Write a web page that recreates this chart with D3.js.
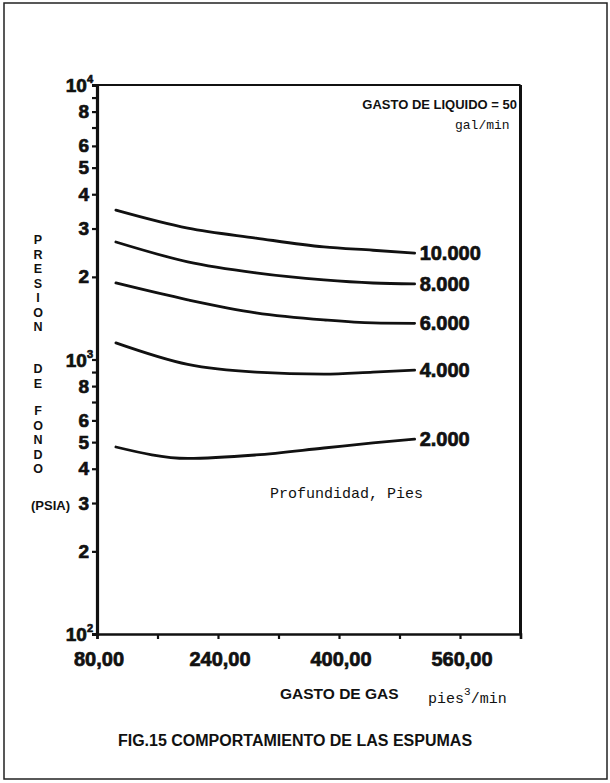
<!DOCTYPE html>
<html>
<head>
<meta charset="utf-8">
<script src="https://cdn.jsdelivr.net/npm/d3@7"></script>
<style>
  html, body { margin: 0; padding: 0; background: #fff; }
  svg { display: block; }
  .heavy { font-family: "Liberation Sans", Arial, sans-serif; font-weight: bold; fill: #111; stroke: #111; stroke-width: 0.7px; }
  .bold { font-family: "Liberation Sans", Arial, sans-serif; font-weight: bold; fill: #111; }
  .mono { font-family: "Liberation Mono", "DejaVu Sans Mono", monospace; fill: #111; }
</style>
</head>
<body>
<script>
// Gas rate (pies^3/min) at which each curve is read
const gasRates = [105, 200, 290, 380, 445, 500];

// Bottom-hole pressure (psia) per well depth (pies)
const depthLabels = ["10.000", "8.000", "6.000", "4.000", "2.000"];
const p10000 = [3500, 3010, 2770, 2570, 2500, 2440];
const p8000  = [2680, 2270, 2070, 1950, 1900, 1885];
const p6000  = [1900, 1650, 1480, 1395, 1360, 1355];
const p4000  = [1150, 960, 900, 885, 900, 915];
const p2000  = [480, 436, 449, 476, 497, 513];
const seriesValues = [p10000, p8000, p6000, p4000, p2000];

// Axis ticks
const xTicks = [80, 160, 240, 320, 400, 480, 560];
const xTickLabels = [80, 240, 400, 560];
const yDecades = [100, 1000, 10000];
const yMinorMultipliers = [2, 3, 4, 5, 6, 7, 8, 9];
const yLabelledMultipliers = [2, 3, 4, 5, 6, 8];

const W = 610, H = 783;
const svg = d3.select("body").append("svg").attr("width", W).attr("height", H);

// Outer frame around the figure
svg.append("rect")
  .attr("x", 4).attr("y", 3).attr("width", 603).attr("height", 776)
  .attr("fill", "none").attr("stroke", "#222").attr("stroke-width", 1.5);

const x = d3.scaleLinear().domain([80, 640]).range([97, 520.5]);
const y = d3.scaleLog().domain([100, 10000]).range([634, 85]);

// Plot box
const [x0, x1] = x.range();
const [yb, yt] = y.range();
svg.append("line").attr("x1", x0 - 5).attr("x2", x1).attr("y1", yt).attr("y2", yt)
  .attr("stroke", "#111").attr("stroke-width", 2);
svg.append("line").attr("x1", x1).attr("x2", x1).attr("y1", yt).attr("y2", yb)
  .attr("stroke", "#111").attr("stroke-width", 3);

// Y axis (log) with ticks on each integer multiple
const yTickVals = [];
yDecades.forEach(d => {
  yTickVals.push(d);
  if (d < 10000) yMinorMultipliers.forEach(m => yTickVals.push(d * m));
});
const yAxis = d3.axisLeft(y).tickValues(yTickVals).tickSize(5).tickFormat("");
const gy = svg.append("g").attr("transform", `translate(${x0},0)`).call(yAxis);
gy.select(".domain").attr("stroke", "#111").attr("stroke-width", 3.2);
gy.selectAll(".tick line").attr("stroke", "#111").attr("stroke-width", 2.2);

// Y tick labels
const supers = { 100: "2", 1000: "3", 10000: "4" };
yDecades.forEach(d => {
  const t = svg.append("text").attr("class", "heavy")
    .attr("x", 93).attr("y", y(d)).attr("text-anchor", "end")
    .attr("dominant-baseline", "central").attr("font-size", 19);
  t.append("tspan").text("10");
  t.append("tspan").attr("font-size", 11).attr("dy", -6).text(supers[d]);
});
[100, 1000].forEach(d => {
  yLabelledMultipliers.forEach(m => {
    svg.append("text").attr("class", "heavy")
      .attr("x", 89).attr("y", y(d * m)).attr("text-anchor", "end")
      .attr("dominant-baseline", "central").attr("font-size", 19)
      .text(m);
  });
});

// X axis
const xAxis = d3.axisBottom(x).tickValues(xTicks).tickSize(5).tickFormat("");
const gx = svg.append("g").attr("transform", `translate(0,${yb})`).call(xAxis);
gx.select(".domain").attr("stroke", "#111").attr("stroke-width", 2.6);
gx.selectAll(".tick line").attr("stroke", "#111").attr("stroke-width", 2.2);

const fmtX = v => v.toFixed(2).replace(".", ",");
xTickLabels.forEach(v => {
  svg.append("text").attr("class", "heavy")
    .attr("x", x(v) + 2).attr("y", 666).attr("text-anchor", "middle")
    .attr("font-size", 20).text(fmtX(v));
});

// Curves
const line = d3.line()
  .x((d, i) => x(gasRates[i]))
  .y(d => y(d))
  .curve(d3.curveMonotoneX);

seriesValues.forEach((vals, k) => {
  svg.append("path").attr("d", line(vals))
    .attr("fill", "none").attr("stroke", "#111")
    .attr("stroke-width", 2.8).attr("stroke-linecap", "round");
  const last = vals[vals.length - 1];
  svg.append("text").attr("class", "heavy")
    .attr("x", x(gasRates[gasRates.length - 1]) + 5)
    .attr("y", y(last))
    .attr("dominant-baseline", "central").attr("font-size", 20)
    .text(depthLabels[k]);
});

// Annotations inside the plot
svg.append("text").attr("class", "bold")
  .attr("x", 517).attr("y", 109).attr("text-anchor", "end")
  .attr("font-size", 13).text("GASTO DE LIQUIDO = 50");
svg.append("text").attr("class", "mono")
  .attr("x", 455).attr("y", 129).attr("font-size", 13).text("gal/min");
svg.append("text").attr("class", "mono")
  .attr("x", 270).attr("y", 498).attr("font-size", 15).text("Profundidad, Pies");

// Y axis title, stacked letters
const yTitleLetters = [
  ["P", 240], ["R", 254.5], ["E", 269], ["S", 283.5], ["I", 298], ["O", 312.5], ["N", 327],
  ["D", 369], ["E", 383.5],
  ["F", 411], ["O", 425.5], ["N", 440], ["D", 454.5], ["O", 469]
];
yTitleLetters.forEach(([ch, yy]) => {
  svg.append("text").attr("class", "bold")
    .attr("x", 38).attr("y", yy).attr("text-anchor", "middle")
    .attr("dominant-baseline", "central").attr("font-size", 12.5).text(ch);
});
svg.append("text").attr("class", "bold")
  .attr("x", 31).attr("y", 505).attr("dominant-baseline", "central")
  .attr("font-size", 13).text("(PSIA)");

// X axis title and units
svg.append("text").attr("class", "bold")
  .attr("x", 280).attr("y", 699).attr("font-size", 15.5).text("GASTO DE GAS");
const units = svg.append("text").attr("class", "mono")
  .attr("x", 428).attr("y", 703).attr("font-size", 15);
units.append("tspan").text("pies");
units.append("tspan").attr("font-size", 11).attr("dy", -8).text("3");
units.append("tspan").attr("dy", 8).text("/min");

// Figure caption
svg.append("text").attr("class", "bold")
  .attr("x", 295).attr("y", 746).attr("text-anchor", "middle")
  .attr("font-size", 16).text("FIG.15 COMPORTAMIENTO DE LAS ESPUMAS");
</script>
</body>
</html>
